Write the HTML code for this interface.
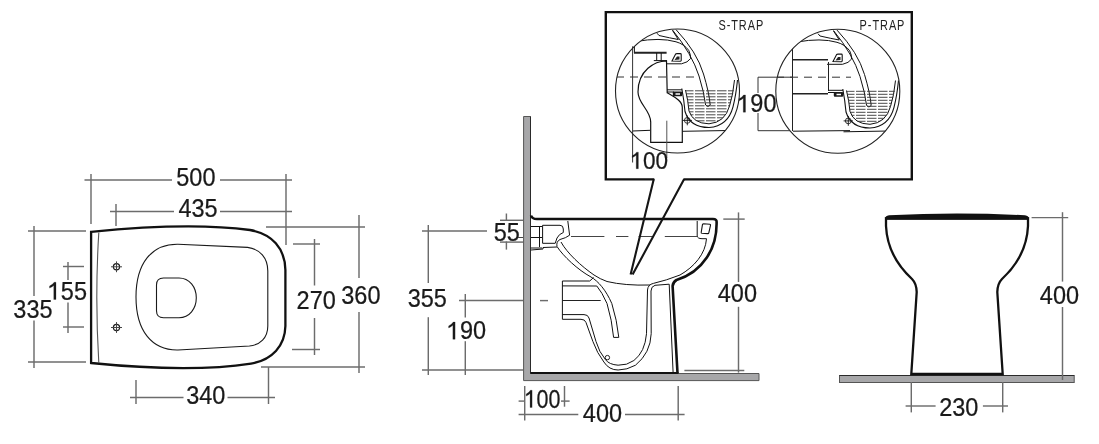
<!DOCTYPE html>
<html><head><meta charset="utf-8"><style>
html,body{margin:0;padding:0;background:#fff;overflow:hidden}
svg{display:block;will-change:transform}
text{font-family:"Liberation Sans",sans-serif}
</style></head><body>
<svg width="1099" height="444" viewBox="0 0 1099 444">
<line x1="91" y1="174" x2="91" y2="224" stroke="#6c6c6c" stroke-width="1.45"/>
<line x1="286" y1="174" x2="286" y2="245" stroke="#6c6c6c" stroke-width="1.45"/>
<line x1="84.5" y1="180" x2="172" y2="180" stroke="#6c6c6c" stroke-width="1.45"/>
<line x1="220" y1="180" x2="292" y2="180" stroke="#6c6c6c" stroke-width="1.45"/>
<g transform="translate(176.27,186.00) scale(0.94,1)" fill="#1a1a1a" stroke="#1a1a1a" stroke-width="0.25"><text font-size="25">500</text></g>
<line x1="116" y1="204" x2="116" y2="226" stroke="#6c6c6c" stroke-width="1.45"/>
<line x1="110" y1="211.5" x2="174" y2="211.5" stroke="#6c6c6c" stroke-width="1.45"/>
<line x1="220" y1="211.5" x2="292" y2="211.5" stroke="#6c6c6c" stroke-width="1.45"/>
<g transform="translate(178.47,216.80) scale(0.94,1)" fill="#1a1a1a" stroke="#1a1a1a" stroke-width="0.25"><text font-size="25">435</text></g>
<line x1="359" y1="215" x2="359" y2="278" stroke="#6c6c6c" stroke-width="1.45"/>
<line x1="359" y1="312" x2="359" y2="373" stroke="#6c6c6c" stroke-width="1.45"/>
<line x1="266" y1="227" x2="365" y2="227" stroke="#6c6c6c" stroke-width="1.45"/>
<line x1="261" y1="367" x2="365" y2="367" stroke="#6c6c6c" stroke-width="1.45"/>
<g transform="translate(341.27,303.70) scale(0.94,1)" fill="#1a1a1a" stroke="#1a1a1a" stroke-width="0.25"><text font-size="25">360</text></g>
<line x1="314.5" y1="239" x2="314.5" y2="285.5" stroke="#6c6c6c" stroke-width="1.45"/>
<line x1="314.5" y1="318" x2="314.5" y2="355" stroke="#6c6c6c" stroke-width="1.45"/>
<line x1="293" y1="244" x2="320" y2="244" stroke="#6c6c6c" stroke-width="1.45"/>
<line x1="292" y1="349.5" x2="320" y2="349.5" stroke="#6c6c6c" stroke-width="1.45"/>
<g transform="translate(296.57,309.00) scale(0.94,1)" fill="#1a1a1a" stroke="#1a1a1a" stroke-width="0.25"><text font-size="25">270</text></g>
<line x1="34" y1="226" x2="34" y2="296" stroke="#6c6c6c" stroke-width="1.45"/>
<line x1="34" y1="320.6" x2="34" y2="368" stroke="#6c6c6c" stroke-width="1.45"/>
<line x1="28" y1="231" x2="86" y2="231" stroke="#6c6c6c" stroke-width="1.45"/>
<line x1="28" y1="362" x2="86" y2="362" stroke="#6c6c6c" stroke-width="1.45"/>
<g transform="translate(13.37,317.80) scale(0.94,1)" fill="#1a1a1a" stroke="#1a1a1a" stroke-width="0.25"><text font-size="25">335</text></g>
<line x1="68" y1="262" x2="68" y2="280" stroke="#6c6c6c" stroke-width="1.45"/>
<line x1="68" y1="302.6" x2="68" y2="333" stroke="#6c6c6c" stroke-width="1.45"/>
<line x1="63" y1="266.5" x2="84" y2="266.5" stroke="#6c6c6c" stroke-width="1.45"/>
<line x1="63" y1="327" x2="84" y2="327" stroke="#6c6c6c" stroke-width="1.45"/>
<g transform="translate(47.77,299.50) scale(0.94,1)" fill="#1a1a1a" stroke="#1a1a1a" stroke-width="0.25"><text font-size="25">&#x2007;55</text><path d="M8.75,0.00L8.75,-17.25L6.75,-17.25Q5.50,-15.00 1.88,-13.38L1.88,-11.38Q4.50,-12.50 6.38,-14.00L6.38,0.00Z"/></g>
<line x1="130" y1="397.5" x2="183.5" y2="397.5" stroke="#6c6c6c" stroke-width="1.45"/>
<line x1="227.5" y1="397.5" x2="275" y2="397.5" stroke="#6c6c6c" stroke-width="1.45"/>
<line x1="136" y1="380" x2="136" y2="404" stroke="#6c6c6c" stroke-width="1.45"/>
<line x1="268.5" y1="367" x2="268.5" y2="404" stroke="#6c6c6c" stroke-width="1.45"/>
<g transform="translate(186.17,404.00) scale(0.94,1)" fill="#1a1a1a" stroke="#1a1a1a" stroke-width="0.25"><text font-size="25">340</text></g>
<path d="M91.1,231.8 Q190,222 250,230 C272,234 285,248 285.4,270 L285.4,326 C285,346 272,360 251,363.6 Q190,373 91.1,363 Z" stroke="#111" stroke-width="2.3" fill="none" />
<path d="M98.8,232.5 Q94.8,297.5 98.8,363" stroke="#555" stroke-width="1.1" fill="none" />
<path d="M178,244.2 L247.6,247.4 C260,249 267.8,258 267.8,271 L267.8,326 C267.8,338 260,345 249.4,346 L178,350 C152,350.5 136,331 136,297 C136,263 152,243.8 178,244.2 Z" stroke="#1a1a1a" stroke-width="1.1" fill="none" />
<path d="M163.5,278 L179,278 C189.5,278 196.3,287 196.3,297.8 C196.3,308.6 189.5,317.7 179,317.7 L163.5,317.7 Q156.5,317.7 156.5,310.7 L156.5,285 Q156.5,278 163.5,278 Z" stroke="#1a1a1a" stroke-width="1.1" fill="none" />
<circle cx="116.5" cy="266.8" r="3.1" stroke="#1e1e1e" fill="none" stroke-width="1.2"/>
<path d="M111,266.8 L122,266.8 M116.5,261.40000000000003 L116.5,272.2" stroke="#444" stroke-width="1"/>
<circle cx="116.5" cy="327.5" r="3.1" stroke="#1e1e1e" fill="none" stroke-width="1.2"/>
<path d="M111,327.5 L122,327.5 M116.5,322.1 L116.5,332.9" stroke="#444" stroke-width="1"/>
<line x1="428.3" y1="225" x2="428.3" y2="283" stroke="#6c6c6c" stroke-width="1.45"/>
<line x1="428.3" y1="317.2" x2="428.3" y2="375" stroke="#6c6c6c" stroke-width="1.45"/>
<line x1="422" y1="231" x2="487" y2="231" stroke="#6c6c6c" stroke-width="1.45"/>
<line x1="422" y1="370" x2="523" y2="370" stroke="#6c6c6c" stroke-width="1.45"/>
<g transform="translate(407.67,306.80) scale(0.94,1)" fill="#1a1a1a" stroke="#1a1a1a" stroke-width="0.25"><text font-size="25">355</text></g>
<line x1="465.3" y1="294" x2="465.3" y2="317.5" stroke="#6c6c6c" stroke-width="1.45"/>
<line x1="465.3" y1="341.2" x2="465.3" y2="375" stroke="#6c6c6c" stroke-width="1.45"/>
<line x1="459" y1="300.5" x2="523" y2="300.5" stroke="#6c6c6c" stroke-width="1.45"/>
<g transform="translate(446.87,339.30) scale(0.94,1)" fill="#1a1a1a" stroke="#1a1a1a" stroke-width="0.25"><text font-size="25">&#x2007;90</text><path d="M8.75,0.00L8.75,-17.25L6.75,-17.25Q5.50,-15.00 1.88,-13.38L1.88,-11.38Q4.50,-12.50 6.38,-14.00L6.38,0.00Z"/></g>
<line x1="506.4" y1="213.5" x2="506.4" y2="221" stroke="#6c6c6c" stroke-width="1.45"/>
<line x1="506.4" y1="241.5" x2="506.4" y2="249.6" stroke="#6c6c6c" stroke-width="1.45"/>
<line x1="500" y1="220.3" x2="523" y2="220.3" stroke="#6c6c6c" stroke-width="1.45"/>
<line x1="500" y1="242.1" x2="523" y2="242.1" stroke="#6c6c6c" stroke-width="1.45"/>
<g transform="translate(493.67,240.60) scale(0.94,1)" fill="#1a1a1a" stroke="#1a1a1a" stroke-width="0.25"><text font-size="25">55</text></g>
<line x1="738.5" y1="212.4" x2="738.5" y2="282" stroke="#6c6c6c" stroke-width="1.45"/>
<line x1="738.5" y1="306.8" x2="738.5" y2="372.6" stroke="#6c6c6c" stroke-width="1.45"/>
<line x1="723.3" y1="219.1" x2="744.7" y2="219.1" stroke="#6c6c6c" stroke-width="1.45"/>
<line x1="684.4" y1="370.5" x2="744.3" y2="370.5" stroke="#6c6c6c" stroke-width="1.45"/>
<g transform="translate(717.77,301.80) scale(0.94,1)" fill="#1a1a1a" stroke="#1a1a1a" stroke-width="0.25"><text font-size="25">400</text></g>
<line x1="524.7" y1="386" x2="524.7" y2="420.5" stroke="#6c6c6c" stroke-width="1.45"/>
<line x1="564.5" y1="386" x2="564.5" y2="406.7" stroke="#6c6c6c" stroke-width="1.45"/>
<line x1="518.6" y1="401.1" x2="525" y2="401.1" stroke="#6c6c6c" stroke-width="1.45"/>
<line x1="561" y1="401.1" x2="569.6" y2="401.1" stroke="#6c6c6c" stroke-width="1.45"/>
<g transform="translate(524.57,407.50) scale(0.86,1)" fill="#1a1a1a" stroke="#1a1a1a" stroke-width="0.25"><text font-size="25">&#x2007;00</text><path d="M8.75,0.00L8.75,-17.25L6.75,-17.25Q5.50,-15.00 1.88,-13.38L1.88,-11.38Q4.50,-12.50 6.38,-14.00L6.38,0.00Z"/></g>
<line x1="518.6" y1="414.5" x2="578.3" y2="414.5" stroke="#6c6c6c" stroke-width="1.45"/>
<line x1="625" y1="414.5" x2="684.6" y2="414.5" stroke="#6c6c6c" stroke-width="1.45"/>
<line x1="678.2" y1="386" x2="678.2" y2="420.5" stroke="#6c6c6c" stroke-width="1.45"/>
<g transform="translate(582.87,422.20) scale(0.94,1)" fill="#1a1a1a" stroke="#1a1a1a" stroke-width="0.25"><text font-size="25">400</text></g>
<path d="M523.6,116.5 L523.6,380.6 L759,380.6 L759,373.5 L530.5,373.5 L530.5,116.5 Z" stroke="#555" stroke-width="1" fill="#a7a7a9" />
<line x1="530.5" y1="116.5" x2="530.5" y2="373.5" stroke="#2a2a2a" stroke-width="1"/>
<path d="M531,215.5 Q532,219 537,219 L713,219 Q717,219 716.6,222.5 C717,248 703,272 676.5,280 Q673,282 672.6,286 L677.5,373" stroke="#111" stroke-width="2.6" fill="none" />
<line x1="530.5" y1="373" x2="678.5" y2="373" stroke="#111" stroke-width="2.2"/>
<path d="M669.2,284.2 L673.1,372.5" stroke="#111" stroke-width="1" fill="none" />
<path d="M697.2,221 L697.2,236 Q697.5,238.6 702,238.7 L706.5,238.7 C705.5,254 694,267 680,275 Q666,280.5 653.4,283.4 Q648,284.5 647.5,290 L646.5,333.7 Q645,352 633.9,360.5 Q627,365.5 618.1,365.2 Q609,364.5 605.5,359.7 Q599,352 596,341.5 L589,318 Q588,314.6 584,314.6 L562.4,314.6" stroke="#111" stroke-width="1" fill="none" />
<path d="M669.2,284.2 L655,285.3 Q651,286.5 651,291 L651.2,333.7 Q650.5,353 635.5,365.2 Q627,370 618.1,370 Q609,370 603.9,362 Q597,353 592.9,341.5 L586,322.5 Q585,319.3 581,319.3 L562.4,319.3 L562.4,281 L589.7,281 L593.6,277.5" stroke="#111" stroke-width="1" fill="none" />
<path d="M567.8,221 L569.6,235.2 Q566,238 560,239.5 Q556,241.5 557,246.5 C563,256 578,270 591,277 C598,281 606,290 611.8,303.5 Q617,320 618.8,337.4 L613.6,337.4 Q612,320 607,303.5 Q602,292 596.8,286 L562.4,285.9" stroke="#111" stroke-width="1" fill="none" />
<path d="M561,242 C567,253 581,266 594,275 Q600,279 607,281.5 Q625,285.8 650,285" stroke="#111" stroke-width="1" fill="none" />
<line x1="562.4" y1="300.5" x2="600.7" y2="300.5" stroke="#222" stroke-width="1"/>
<path d="M702.5,224.5 Q702.8,223.8 703.6,223.8 L709.8,224.3 Q710.7,224.4 710.5,225.3 L708.8,232.8 Q708.6,233.6 707.8,233.6 L701.8,233.3 Q701,233.2 701.2,232.4 Z" stroke="#111" stroke-width="1.1" fill="none" />
<path d="M542.6,225.3 L560,225.3 Q563.3,225.3 563.3,229 L563.3,232.5 Q559,234 557,238 L555.2,243.3 L542.6,243.3 Z" stroke="#111" stroke-width="1" fill="none" />
<path d="M531,226.5 L542,226.5 M531,237.5 L542,237.5 M531,248 L542,248 M539.5,227 L539.5,247 M531,250 L543,249 L543,247.5 L557,247" stroke="#111" stroke-width="1" fill="none" />
<path d="M571,236.5 L604.4,236.5 M616,236.5 L628.4,236.5 M638.6,236.5 L653.2,236.5 M664.8,236.5 L697.6,236.5 M518,237.5 L523,237.5" stroke="#444" stroke-width="1" fill="none" />
<circle cx="607.4" cy="357.6" r="2.2" stroke="#222" fill="none" stroke-width="1"/>
<line x1="540" y1="300.6" x2="548" y2="300.6" stroke="#6c6c6c" stroke-width="1.45"/>
<path d="M653.8,179 L630.6,274.6 M684.2,179 L632.6,274.6" stroke="#151515" stroke-width="2.1" fill="none" />
<path d="M654.3,179.4 L605.8,179.4 L605.8,12.1 L911.8,12.1 L911.8,179.4 L683.7,179.4" stroke="#111" stroke-width="2.4" fill="none" stroke-linejoin="miter"/>
<text transform="translate(718.4,29.7) scale(0.76,1)" font-size="14.4" letter-spacing="1.25" fill="#222">S-TRAP</text>
<text transform="translate(859.6,29.7) scale(0.76,1)" font-size="14.4" letter-spacing="1.25" fill="#222">P-TRAP</text>
<defs><clipPath id="cs"><circle cx="677.5" cy="91" r="62"/></clipPath><clipPath id="cp"><circle cx="837.8" cy="91.2" r="62"/></clipPath><clipPath id="water"><path d="M685.5,90 Q688,100 689,111 Q693,123.5 709,123.8 Q725,122.5 729.5,106 Q733,95 734.5,88 Z"/></clipPath></defs>
<g clip-path="url(#cs)"><g id="bowl">
<path d="M636,41.5 Q660,37.2 676,41.8 Q684,44 688.7,50.3 Q691,55 690.5,58.6 Q688,62.5 681.5,63.8 L666,63.8" stroke="#111" stroke-width="1" fill="none" />
<path d="M657,33.2 L659,35.5 Q670,38 678.3,39.5 L672.5,30.5" stroke="#111" stroke-width="1" fill="none" />
<path d="M672.5,30 Q692,54 699,76 Q704,92 705.6,105" stroke="#111" stroke-width="1" fill="none" />
<path d="M676,29.6 Q697,52 703.5,74 Q709,92 710.2,105 Q708,108 705.6,105" stroke="#111" stroke-width="1" fill="none" />
<path d="M672,61 L675.5,54.2 Q676,53.6 677,53.6 L680.4,53.6 Q681.2,53.6 681.2,54.4 L681.2,60.6 Q681.2,61.2 680.5,61.2 Z" stroke="#111" stroke-width="1.1" fill="none" />
<path d="M674.5,60 L677,56.5 L679.5,56.5 L679.5,59.5 Z" stroke="#111" stroke-width="0" fill="#222" />
<path d="M667,89.8 L682,89.8 M667,92 L674,92" stroke="#111" stroke-width="1" fill="none" />
<path d="M673.8,91.6 L681.2,91.6 Q682.2,91.6 682.2,92.6 L682.2,95.2 Q682.2,96.2 681.2,96.2 L673.8,96.2 Q672.8,96.2 672.8,95.2 L672.8,92.6 Q672.8,91.6 673.8,91.6 Z" stroke="#111" stroke-width="0" fill="#1a1a1a" />
<path d="M675.5,93.2 L680,93.2 L680,94.8 L675.5,94.8 Z" stroke="#111" stroke-width="0" fill="#fff" />
<path d="M681.8,88.5 Q684,100 685,111.5 Q690,127.5 709,127.5 Q728,126 733,106.8 Q736,95 737.5,80" stroke="#111" stroke-width="1.1" fill="none" />
<path d="M685.5,90 Q688,100 689,111 Q693,123.5 709,123.8 Q725,122.5 729.5,106 Q733,95 734.5,80" stroke="#111" stroke-width="1" fill="none" />
<g clip-path="url(#water)" stroke="#333" stroke-width="0.9" stroke-dasharray="9.5,1.5">
<line x1="684" y1="90.8" x2="736" y2="90.8"/>
<line x1="684" y1="93.8" x2="736" y2="93.8"/>
<line x1="684" y1="96.8" x2="736" y2="96.8"/>
<line x1="684" y1="99.8" x2="736" y2="99.8"/>
<line x1="684" y1="102.8" x2="736" y2="102.8"/>
<line x1="684" y1="105.8" x2="736" y2="105.8"/>
<line x1="684" y1="108.8" x2="736" y2="108.8"/>
<line x1="684" y1="111.8" x2="736" y2="111.8"/>
<line x1="684" y1="114.8" x2="736" y2="114.8"/>
<line x1="684" y1="117.8" x2="736" y2="117.8"/>
<line x1="684" y1="120.8" x2="736" y2="120.8"/>
</g>
<circle cx="687.3" cy="120.4" r="2.9" stroke="#222" fill="none" stroke-width="0.9"/>
<path d="M682.6,120.4 L692,120.4 M687.3,115.5 L687.3,125.3" stroke="#111" stroke-width="0.9" fill="none" />
<path d="M682.5,131.3 L740,130.3" stroke="#111" stroke-width="1" fill="none" />
</g></g>
<g clip-path="url(#cs)">
<path d="M634.4,46.3 L634.4,53 M632,46.3 L635,46.3" stroke="#111" stroke-width="1" fill="none" />
<line x1="634" y1="52.7" x2="666.6" y2="52.7" stroke="#222" stroke-width="2"/>
<path d="M656.7,53 V60.7 M661.2,53 V60.7 M653.8,60.6 L667,60.6" stroke="#111" stroke-width="1" fill="none" />
<path d="M666.5,61 C655,61 638,70 638,92 C638,104 650.7,110 650.7,122 L650.7,142.3 L682.3,142.3 L682.3,107.4 C682.3,100 672,96 667.2,92.8 L666.5,61 Z" stroke="#111" stroke-width="1.2" fill="none" />
<path d="M632.6,131 L650,130.3" stroke="#111" stroke-width="1" fill="none" />
<line x1="616" y1="77" x2="700" y2="77" stroke="#333" stroke-width="1" stroke-dasharray="8,6"/>
</g>
<path d="M632.6,46.3 V162.5" stroke="#333" stroke-width="1" fill="none" />
<path d="M666.8,120.7 V158" stroke="#555" stroke-width="1" fill="none" />
<circle cx="677.5" cy="91" r="62" stroke="#222" fill="none" stroke-width="1.1"/>
<g clip-path="url(#cp)">
<use href="#bowl" transform="translate(161,0.5)"/>
<line x1="792.5" y1="48" x2="792.5" y2="131" stroke="#222" stroke-width="1"/>
<line x1="792.4" y1="59.8" x2="828" y2="59.8" stroke="#222" stroke-width="1.5"/>
<line x1="792.4" y1="93.8" x2="828" y2="93.8" stroke="#222" stroke-width="1.5"/>
<line x1="828.5" y1="62" x2="828.5" y2="91" stroke="#222" stroke-width="1"/>
<path d="M793,131.2 L850,130.6" stroke="#111" stroke-width="1" fill="none" />
<line x1="776" y1="77.2" x2="851" y2="77.2" stroke="#333" stroke-width="1" stroke-dasharray="8,6"/>
</g>
<circle cx="837.8" cy="91.2" r="62" stroke="#222" fill="none" stroke-width="1.1"/>
<path d="M758,77.2 L792.7,77.2 M758,77.2 V93 M758,113 V130.7 L790,130.7" stroke="#333" stroke-width="1" fill="none" />
<g transform="translate(737.27,112.20) scale(0.94,1)" fill="#1a1a1a" stroke="#1a1a1a" stroke-width="0.25"><text font-size="25">&#x2007;90</text><path d="M8.75,0.00L8.75,-17.25L6.75,-17.25Q5.50,-15.00 1.88,-13.38L1.88,-11.38Q4.50,-12.50 6.38,-14.00L6.38,0.00Z"/></g>
<g transform="translate(630.47,168.70) scale(0.94,1)" fill="#1a1a1a" stroke="#1a1a1a" stroke-width="0.25"><text font-size="24">&#x2007;00</text><path d="M8.40,0.00L8.40,-16.56L6.48,-16.56Q5.28,-14.40 1.80,-12.84L1.80,-10.92Q4.32,-12.00 6.12,-13.44L6.12,0.00Z"/></g>
<rect x="839.5" y="375.5" width="234.7" height="7" fill="#a7a7a9" stroke="#555" stroke-width="1"/>
<line x1="839.5" y1="375.5" x2="1074.2" y2="375.5" stroke="#2a2a2a" stroke-width="1"/>
<path d="M886,218.5 L886,226 C887,248 898,266 912,279 C915,282 916.5,285 916.7,292 L911.3,374 L1002.7,374 L997.3,292 C997.5,285 999,282 1002,279 C1016,266 1027,248 1028,226 L1028,218.5 Z" stroke="#111" stroke-width="2.3" fill="none" />
<path d="M885.2,219.6 L885.2,217.5 Q886,215.6 889,215.3 Q957,211.6 1025,215.3 Q1028,215.6 1028.8,217.5 L1028.8,219.6 Z" stroke="#111" stroke-width="0" fill="#111" />
<line x1="911.3" y1="382" x2="911.3" y2="412.4" stroke="#6c6c6c" stroke-width="1.45"/>
<line x1="1002.7" y1="382" x2="1002.7" y2="412.4" stroke="#6c6c6c" stroke-width="1.45"/>
<line x1="905.6" y1="406" x2="935.6" y2="406" stroke="#6c6c6c" stroke-width="1.45"/>
<line x1="982.9" y1="406" x2="1008" y2="406" stroke="#6c6c6c" stroke-width="1.45"/>
<g transform="translate(939.17,415.50) scale(0.94,1)" fill="#1a1a1a" stroke="#1a1a1a" stroke-width="0.25"><text font-size="25">230</text></g>
<line x1="1062.5" y1="212.2" x2="1062.5" y2="281.6" stroke="#6c6c6c" stroke-width="1.45"/>
<line x1="1062.5" y1="307" x2="1062.5" y2="380" stroke="#6c6c6c" stroke-width="1.45"/>
<line x1="1031.6" y1="217.6" x2="1068.2" y2="217.6" stroke="#6c6c6c" stroke-width="1.45"/>
<g transform="translate(1039.87,304.10) scale(0.94,1)" fill="#1a1a1a" stroke="#1a1a1a" stroke-width="0.25"><text font-size="25">400</text></g>
</svg></body></html>
